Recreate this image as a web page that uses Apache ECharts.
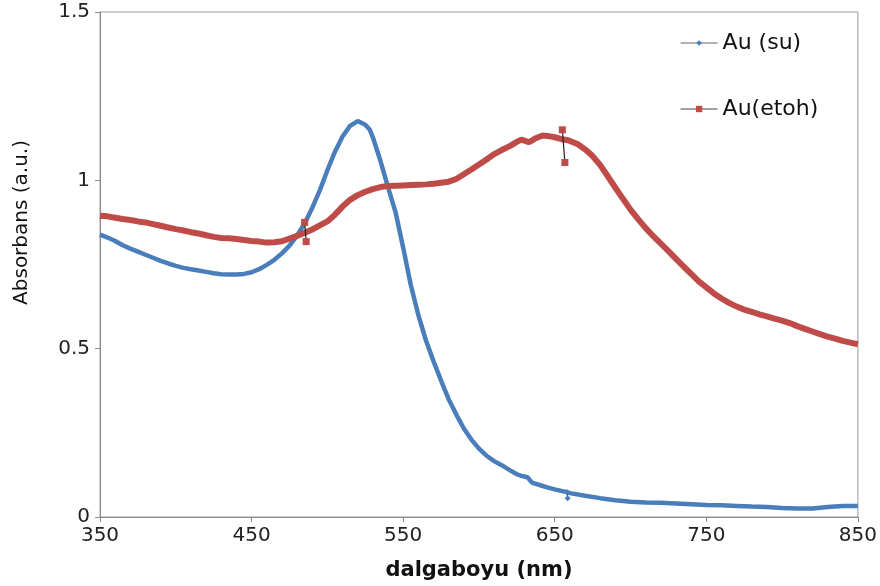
<!DOCTYPE html>
<html>
<head>
<meta charset="utf-8">
<script src="https://cdn.jsdelivr.net/npm/echarts@6/dist/echarts.min.js"></script>
<style>
html,body{margin:0;padding:0;background:#fff;}
#chart{width:880px;height:586px;}
</style>
</head>
<body>
<div id="chart"></div>
<script>
// Wavelength (nm) / absorbance readings
const suWavelength = [350,355,360,365,370,375,380,385,390,395,400,405,410,415,420,425,430,435,440,445,450,455,460,465,470,475,480,485,490,495,500,505,510,515,520,525,528,530,535,540,545,550,555,560,565,570,575,580,585,590,595,600,605,610,615,620,625,628,632,635,640,645,650,655,658,660,670,680,690,700,710,720,730,740,750,760,770,780,790,800,810,820,830,840,850];
const suValues = [0.839,0.830,0.820,0.807,0.797,0.788,0.779,0.770,0.761,0.753,0.746,0.740,0.736,0.732,0.728,0.724,0.721,0.720,0.720,0.722,0.727,0.736,0.749,0.764,0.783,0.806,0.836,0.872,0.918,0.970,1.030,1.085,1.130,1.162,1.176,1.165,1.150,1.128,1.058,0.980,0.905,0.800,0.690,0.600,0.525,0.463,0.405,0.350,0.305,0.263,0.230,0.203,0.182,0.166,0.154,0.140,0.127,0.122,0.118,0.102,0.095,0.088,0.082,0.077,0.074,0.071,0.063,0.056,0.050,0.045,0.043,0.042,0.040,0.038,0.036,0.035,0.033,0.031,0.030,0.027,0.025,0.025,0.030,0.033,0.033];

const etohWavelength = [350,355,360,365,370,375,380,385,390,395,400,405,410,415,420,425,430,435,440,445,450,455,460,465,470,475,480,484,487,490,495,500,505,510,515,520,525,530,535,540,545,550,555,560,565,570,575,580,585,590,595,600,605,610,615,620,625,628,633,637,642,645,650,654,658,660,665,670,675,680,685,690,695,700,705,710,715,720,725,730,735,740,745,750,755,760,765,770,775,780,785,790,795,800,805,810,815,820,825,830,835,840,845,850];
const etohValues = [0.895,0.893,0.889,0.885,0.882,0.878,0.875,0.870,0.865,0.860,0.855,0.851,0.846,0.842,0.837,0.832,0.829,0.828,0.826,0.823,0.820,0.818,0.815,0.816,0.819,0.827,0.835,0.842,0.848,0.854,0.866,0.878,0.898,0.922,0.942,0.956,0.966,0.974,0.980,0.983,0.984,0.985,0.986,0.987,0.988,0.990,0.993,0.996,1.004,1.018,1.032,1.047,1.062,1.078,1.090,1.101,1.114,1.121,1.113,1.124,1.133,1.132,1.128,1.123,1.120,1.117,1.108,1.092,1.072,1.045,1.012,0.978,0.945,0.913,0.885,0.858,0.834,0.812,0.790,0.767,0.744,0.722,0.700,0.682,0.664,0.649,0.636,0.625,0.616,0.609,0.602,0.596,0.589,0.583,0.576,0.567,0.559,0.551,0.543,0.536,0.530,0.523,0.518,0.513];

// Outlier readings (spikes) in the measured data
const suSpikeWavelength = [658, 658.5];
const suSpikeValues = [0.074, 0.056];
const etohSpikeWavelength1 = [485, 486];
const etohSpikeValues1 = [0.875, 0.818];
const etohSpikeWavelength2 = [655, 656.7];
const etohSpikeValues2 = [1.150, 1.053];

const xTicks = [350,450,550,650,750,850];
const seriesNames = ['Au (su)', 'Au(etoh)'];

const zip = (xs, ys) => xs.map((x, i) => [x, ys[i]]);

const BLUE = '#4A7EBB';
const RED = '#BE4B48';
const FONT = 'DejaVu Sans';

const chart = echarts.init(document.getElementById('chart'));
chart.setOption({
  animation: false,
  backgroundColor: '#fff',
  grid: {left: 100, right: 22, top: 12, bottom: 68, show: true, borderColor: '#9a9a9a', borderWidth: 1, containLabel: false},
  legend: [
    {data: [{name: seriesNames[0], itemStyle: {color: BLUE}, lineStyle: {color: '#666', width: 1.2}}],
     left: 680, top: 32, padding: 0, itemWidth: 37, itemHeight: 7, itemGap: 5,
     textStyle: {fontFamily: FONT, fontSize: 22, color: '#111'}},
    {data: [{name: seriesNames[1], itemStyle: {color: RED}, lineStyle: {color: '#444', width: 1.2}}],
     left: 680, top: 98, padding: 0, itemWidth: 37, itemHeight: 8, itemGap: 5,
     textStyle: {fontFamily: FONT, fontSize: 22, color: '#111'}}
  ],
  xAxis: {
    type: 'value', min: 350, max: 850,
    name: 'dalgaboyu (nm)', nameLocation: 'middle', nameGap: 43,
    nameTextStyle: {fontFamily: FONT, fontSize: 21, fontWeight: 'bold', color: '#111'},
    axisLine: {show: true, lineStyle: {color: '#8c8c8c', width: 1}},
    axisTick: {show: true, length: 5, customValues: xTicks, lineStyle: {color: '#8c8c8c'}},
    axisLabel: {customValues: xTicks, fontFamily: FONT, fontSize: 20, color: '#222', margin: 9},
    splitLine: {show: false}
  },
  yAxis: {
    type: 'value', min: 0, max: 1.5, interval: 0.5,
    axisLine: {show: true, lineStyle: {color: '#8c8c8c', width: 1}},
    axisTick: {show: true, length: 5, lineStyle: {color: '#8c8c8c'}},
    axisLabel: {fontFamily: FONT, fontSize: 20, color: '#222', margin: 10},
    splitLine: {show: false}
  },
  graphic: [{
    type: 'text', left: 12, top: 140, rotation: Math.PI / 2,
    style: {text: 'Absorbans (a.u.)', fontFamily: FONT, fontSize: 20, fill: '#111'}
  }],
  series: [
    {name: seriesNames[0], type: 'line', data: zip(suWavelength, suValues),
     symbol: 'diamond', showSymbol: false, symbolSize: 6, smooth: false,
     lineStyle: {color: BLUE, width: 4.5}, itemStyle: {color: BLUE}, z: 2},
    {name: seriesNames[1], type: 'line', data: zip(etohWavelength, etohValues),
     symbol: 'rect', showSymbol: false, symbolSize: 6, smooth: false,
     lineStyle: {color: RED, width: 6}, itemStyle: {color: RED}, z: 3},
    {name: 'su-spike', type: 'line', data: zip(suSpikeWavelength, suSpikeValues),
     symbol: 'diamond', symbolSize: 6, showSymbol: true,
     lineStyle: {color: '#222', width: 1}, itemStyle: {color: BLUE}, z: 4},
    {name: 'etoh-spike-1', type: 'line', data: zip(etohSpikeWavelength1, etohSpikeValues1),
     symbol: 'rect', symbolSize: 7, showSymbol: true,
     lineStyle: {color: '#222', width: 1.2}, itemStyle: {color: RED}, z: 5},
    {name: 'etoh-spike-2', type: 'line', data: zip(etohSpikeWavelength2, etohSpikeValues2),
     symbol: 'rect', symbolSize: 7, showSymbol: true,
     lineStyle: {color: '#222', width: 1.2}, itemStyle: {color: RED}, z: 5}
  ]
});
</script>
</body>
</html>
